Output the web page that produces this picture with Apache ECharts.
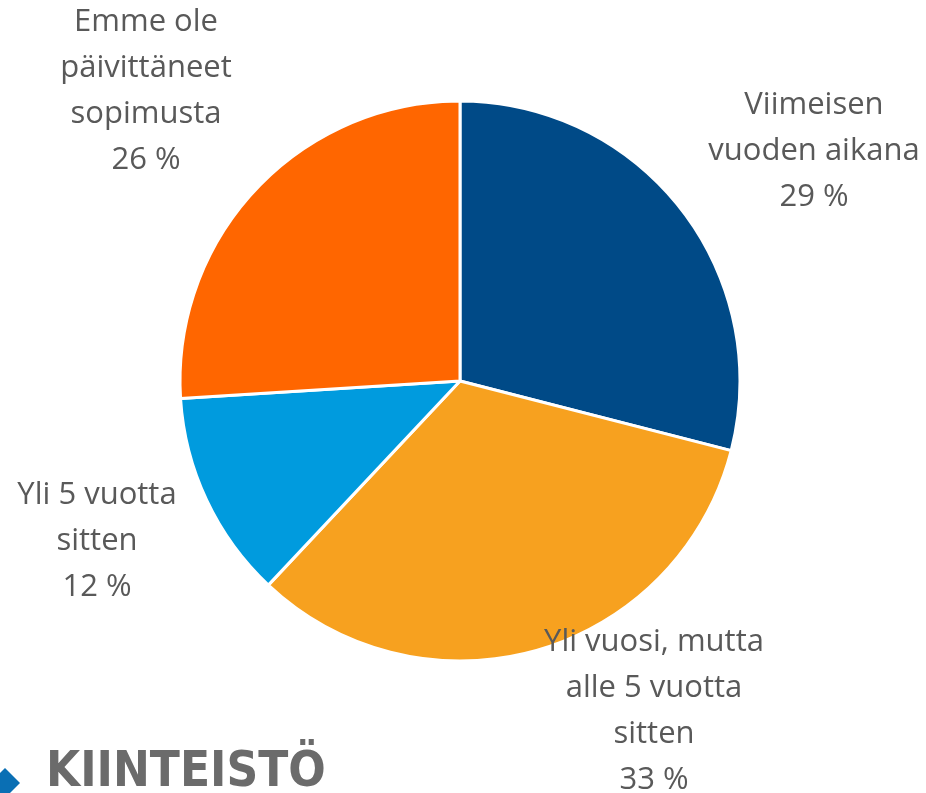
<!DOCTYPE html>
<html>
<head>
<meta charset="utf-8">
<script src="https://cdn.jsdelivr.net/npm/echarts@6/dist/echarts.min.js"></script>
<style>
html,body{margin:0;padding:0;background:#fff;}
#chart{width:926px;height:793px;}
</style>
</head>
<body>
<div id="chart"></div>
<script>
// data, clockwise from 12 o'clock
const categories = ['Viimeisen\nvuoden aikana', 'Yli vuosi, mutta\nalle 5 vuotta\nsitten', 'Yli 5 vuotta\nsitten', 'Emme ole\npäivittäneet\nsopimusta'];
const values = [29, 33, 12, 26];
const colors = ['#004a87', '#f7a11f', '#009bde', '#ff6600'];

// where each label block sits (center of text block)
const labelPos = [[814, 151], [654, 711], [97, 541], [146, 91]];

var chart = echarts.init(document.getElementById('chart'));
var option = {
  animation: false,
  backgroundColor: '#fff',
  series: [{
    type: 'pie',
    center: [460, 381],
    radius: 280,
    startAngle: 90,
    clockwise: true,
    data: categories.map(function (c, i) {
      return {name: c, value: values[i], itemStyle: {color: colors[i]}};
    }),
    itemStyle: {borderColor: '#fff', borderWidth: 3},
    label: {
      show: true,
      position: 'outside',
      formatter: function (p) { return p.name + '\n' + p.value + ' %'; },
      fontFamily: 'Open Sans',
      fontSize: 31,
      lineHeight: 46,
      color: '#595959',
      align: 'center',
      overflow: 'none',
      width: 300
    },
    labelLine: {show: false},
    labelLayout: function (params) {
      var pos = labelPos[params.dataIndex];
      return {x: pos[0], y: pos[1], align: 'center', verticalAlign: 'middle'};
    },
    emphasis: {disabled: true}
  }],
  graphic: [
    {
      type: 'polygon',
      shape: {points: [[-10, 783], [5, 768], [20, 783], [5, 798]]},
      style: {fill: '#0a6fb4'}
    },
    {
      type: 'text',
      x: 46,
      y: 773,
      style: {
        text: 'KIINTEISTÖ',
        font: 'bold 49px "DejaVu Sans Condensed", "Liberation Sans"',
        fill: '#6b6b6b',
        verticalAlign: 'middle'
      }
    }
  ]
};
chart.setOption(option);
</script>
</body>
</html>
